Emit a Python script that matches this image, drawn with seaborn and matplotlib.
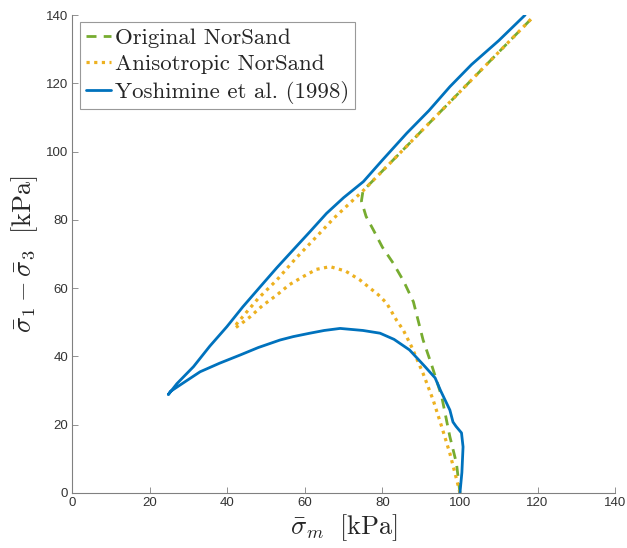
import numpy as np
import pandas as pd
import seaborn as sns
import matplotlib.pyplot as plt

# Yoshimine et al. (1998) - measured path (p, q)
yosh_p = [100, 100.5, 100.8, 100.4, 99.0, 98.2, 97.4, 95.0, 93.6, 91.0, 87.0, 83.0, 79.4, 75.0,
          69.1, 65.0, 61.3, 57.0, 53.6, 48.0, 43.3, 38.0, 33.0, 29.0, 25.3, 24.8,
          27.0, 31.3, 35.5, 39.9, 44.0, 48.5, 52.8, 57.0, 61.3, 65.6, 70.0, 75.1, 80.0,
          86.3, 92.0, 97.4, 103.0, 110.0, 116.8]
yosh_q = [0, 6.0, 13.5, 17.6, 19.5, 20.8, 24.3, 30.0, 33.7, 37.0, 41.9, 45.0, 46.8, 47.6,
          48.2, 47.6, 46.8, 45.8, 44.8, 42.6, 40.4, 38.0, 35.5, 32.5, 29.7, 28.8,
          32.0, 37.0, 43.0, 48.7, 54.5, 60.4, 66.0, 71.2, 76.5, 81.9, 86.5, 91.2, 97.5,
          105.4, 112.0, 119.0, 125.5, 132.5, 140.0]

# Original NorSand
orig_p = [100, 99.1, 97.4, 95.3, 92.7, 90.5, 88.0, 85.5, 82.8, 80.0, 77.7, 75.8, 74.6, 75.0, 118.5]
orig_q = [0, 8.7, 16.5, 28.2, 37.5, 44.8, 56.0, 62.0, 67.3, 72.0, 77.0, 81.0, 85.5, 88.5, 139.0]

# Anisotropic NorSand
aniso_p = [100, 99.6, 97.4, 95.3, 93.1, 90.5, 87.5, 85.4, 83.7, 81.1, 79.0, 74.2, 70.5, 66.5,
           63.0, 59.6, 56.0, 52.8, 49.0, 45.9, 43.5, 42.0, 42.4, 45.0, 48.0, 52.8, 57.5, 62.2,
           67.5, 73.4, 75.0, 118.5]
aniso_q = [0, 1.9, 11.6, 19.4, 27.2, 35.0, 42.9, 47.7, 50.5, 55.6, 58.0, 62.4, 65.0, 66.3,
           65.5, 63.4, 61.0, 58.0, 54.8, 51.6, 49.5, 48.3, 49.5, 53.0, 57.0, 62.4, 68.5, 74.1,
           80.5, 86.8, 88.5, 139.0]

sns.set_style('white')
plt.rcParams['mathtext.fontset'] = 'cm'
plt.rcParams['font.family'] = ['Liberation Sans', 'DejaVu Sans']

fig = plt.figure(figsize=(6.27, 5.48), dpi=100)
ax = fig.add_axes([0.115, 0.1004, 0.866, 0.8722])

sns.lineplot(x=orig_p, y=orig_q, sort=False, ax=ax, color='#77AC30', lw=2.0,
             linestyle=(0, (3.6, 2.6)), label='Original NorSand', estimator=None)
sns.lineplot(x=aniso_p, y=aniso_q, sort=False, ax=ax, color='#EDB120', lw=2.3,
             linestyle=(0, (1.0, 1.4)), label='Anisotropic NorSand', estimator=None)
sns.lineplot(x=yosh_p, y=yosh_q, sort=False, ax=ax, color='#0072BD', lw=2.0,
             label='Yoshimine et al. (1998)', estimator=None)

ax.set_xlim(0, 140)
ax.set_ylim(0, 140)
ax.set_xticks(range(0, 141, 20))
ax.set_yticks(range(0, 141, 20))
for s in ['top', 'right']:
    ax.spines[s].set_visible(False)
for s in ['left', 'bottom']:
    ax.spines[s].set_color('#808080')
    ax.spines[s].set_linewidth(0.8)
ax.tick_params(bottom=True, left=True, direction='in', length=4, width=0.6, color='#808080',
               labelsize=9.5, labelcolor='#333333', pad=3)

ax.set_xlabel(r'$\bar{\sigma}_m\ \ [\mathrm{kPa}]$', fontsize=19, labelpad=2)
ax.set_ylabel(r'$\bar{\sigma}_1 - \bar{\sigma}_3\ \ [\mathrm{kPa}]$', fontsize=19, labelpad=4)

# legend in MATLAB style
h, l = ax.get_legend_handles_labels()
leg = ax.legend(h, l, loc='upper left', bbox_to_anchor=(0.006, 0.995),
                prop={'family': 'cmr10', 'size': 16.5}, frameon=True, fancybox=False,
                handlelength=1.1, handletextpad=0.2, borderpad=0.25, labelspacing=0.28,
                borderaxespad=0.2)
leg.get_frame().set_edgecolor('#808080')
leg.get_frame().set_linewidth(0.8)

fig.savefig('out.png', dpi=100)
